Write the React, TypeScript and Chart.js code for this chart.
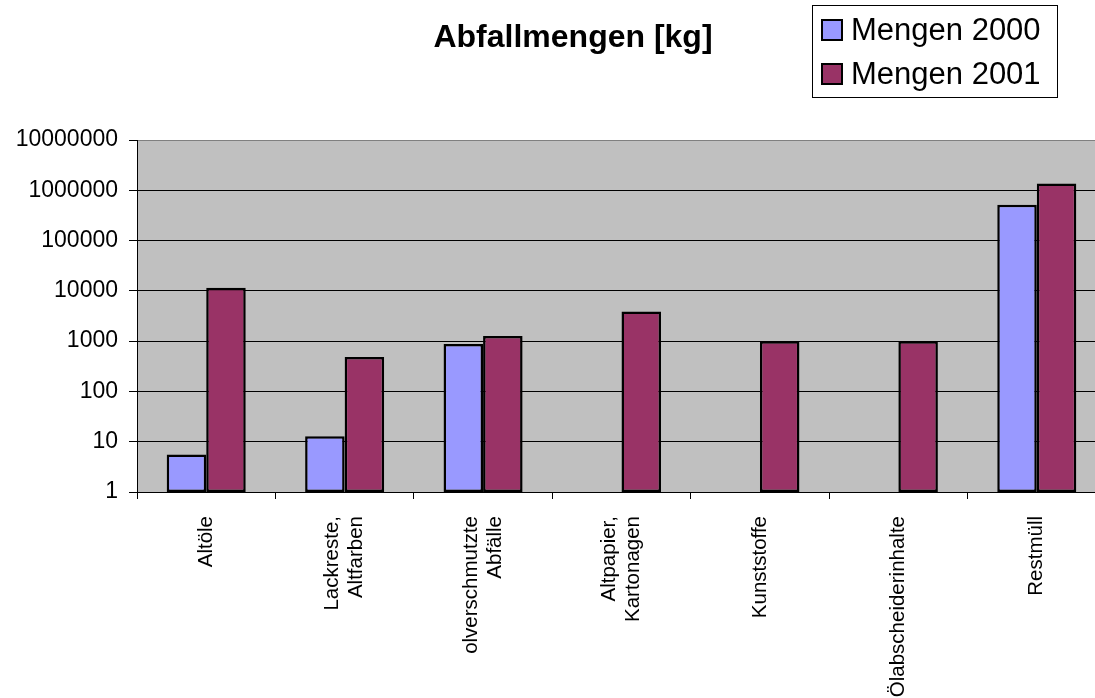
import React, { useEffect, useRef } from 'react';
import { Chart, registerables } from 'chart.js';

Chart.register(...registerables);

const categories: string[][] = [
  ['Altöle'],
  ['Lackreste,', 'Altfarben'],
  ['olverschmutzte', 'Abfälle'],
  ['Altpapier,', 'Kartonagen'],
  ['Kunststoffe'],
  ['Ölabscheiderinhalte'],
  ['Restmüll'],
];
const mengen2000: (number | null)[] = [5.6, 12.8, 875, null, null, null, 515000];
const mengen2001: (number | null)[] = [11500, 483, 1260, 3900, 1000, 1000, 1370000];
const yTicks = [1, 10, 100, 1000, 10000, 100000, 1000000, 10000000];
const seriesNames = ['Mengen 2000', 'Mengen 2001'];
const seriesColors = ['#9999FF', '#993366'];
const chartTitle = 'Abfallmengen [kg]';

const FONT = '"Liberation Sans", Arial, Helvetica, sans-serif';

const decorPlugin = {
  id: 'decor',
  beforeDraw(chart: any) {
    const { ctx, chartArea: a } = chart;
    ctx.save();
    ctx.fillStyle = '#C0C0C0';
    ctx.fillRect(a.left, a.top, a.right - a.left, a.bottom - a.top);
    ctx.restore();
  },
  afterDraw(chart: any) {
    const ctx = chart.ctx as CanvasRenderingContext2D;
    const xs = chart.scales.x;
    ctx.save();
    ctx.fillStyle = '#000';
    // category labels, rotated
    ctx.font = `20.5px ${FONT}`;
    categories.forEach((lines, i) => {
      const cx = xs.getPixelForValue(i);
      ctx.save();
      ctx.translate(cx, xs.top + 24);
      ctx.rotate(-Math.PI / 2);
      ctx.textAlign = 'right';
      ctx.textBaseline = 'middle';
      lines.forEach((l, j) => {
        ctx.fillText(l, 0, (j - (lines.length - 1) / 2) * 24);
      });
      ctx.restore();
    });
    // title
    ctx.font = `bold 32px ${FONT}`;
    ctx.textAlign = 'center';
    ctx.textBaseline = 'alphabetic';
    ctx.fillText(chartTitle, 573, 47);
    // legend
    ctx.lineWidth = 1;
    ctx.strokeStyle = '#000';
    ctx.strokeRect(812.5, 5.5, 245, 92);
    ctx.font = `31px ${FONT}`;
    ctx.textAlign = 'left';
    seriesNames.forEach((name, i) => {
      const base = 40 + i * 44;
      ctx.fillStyle = seriesColors[i];
      ctx.fillRect(822, base - 20, 20, 20);
      ctx.lineWidth = 2;
      ctx.strokeStyle = '#000';
      ctx.strokeRect(822, base - 20, 20, 20);
      ctx.fillStyle = '#000';
      ctx.fillText(name, 851, base);
    });
    ctx.restore();
  },
};

export default function App() {
  const ref = useRef<HTMLCanvasElement | null>(null);

  useEffect(() => {
    if (!ref.current) return;
    const chart = new Chart(ref.current, {
      type: 'bar',
      data: {
        labels: categories.map((c) => c.join(' ')),
        datasets: [
          {
            label: seriesNames[0],
            data: mengen2000 as any,
            backgroundColor: seriesColors[0],
            borderColor: '#000',
            borderWidth: 2.5,
            borderSkipped: false,
            barPercentage: 1,
            categoryPercentage: 0.571,
          },
          {
            label: seriesNames[1],
            data: mengen2001 as any,
            backgroundColor: seriesColors[1],
            borderColor: '#000',
            borderWidth: 2.5,
            borderSkipped: false,
            barPercentage: 1,
            categoryPercentage: 0.571,
          },
        ],
      },
      options: {
        animation: false,
        responsive: false,
        devicePixelRatio: 1,
        layout: { padding: { left: 0, top: 140, right: 4, bottom: 0 } },
        plugins: {
          legend: { display: false },
          title: { display: false },
          tooltip: { enabled: false },
        },
        scales: {
          x: {
            type: 'category',
            offset: true,
            grid: {
              offset: true,
              drawOnChartArea: false,
              drawTicks: true,
              tickLength: 7,
              color: '#000',
            },
            border: { color: '#000', width: 1 },
            ticks: { display: false },
            afterFit: (s: any) => {
              s.height = 206;
            },
          },
          y: {
            type: 'logarithmic',
            min: 1,
            max: 10000000,
            afterBuildTicks: (s: any) => {
              s.ticks = yTicks.map((v) => ({ value: v }));
            },
            afterFit: (s: any) => {
              s.width = 137;
            },
            ticks: {
              color: '#000',
              padding: 11,
              font: { family: FONT, size: 23 },
              callback: (v: any) => String(v),
            },
            grid: {
              color: (c: any) => (c.tick && c.tick.value === 10000000 ? '#808080' : '#000'),
              tickColor: '#000',
              tickLength: 8,
            },
            border: { color: '#000', width: 1 },
          },
        },
      },
      plugins: [decorPlugin],
    });
    return () => chart.destroy();
  }, []);

  return (
    <div
      style={{
        position: 'fixed',
        left: 0,
        top: 0,
        width: 1095,
        height: 698,
        overflow: 'hidden',
        background: '#fff',
      }}
    >
      <canvas ref={ref} width={1110} height={698} style={{ display: 'block', width: 1110, height: 698 }} />
    </div>
  );
}
